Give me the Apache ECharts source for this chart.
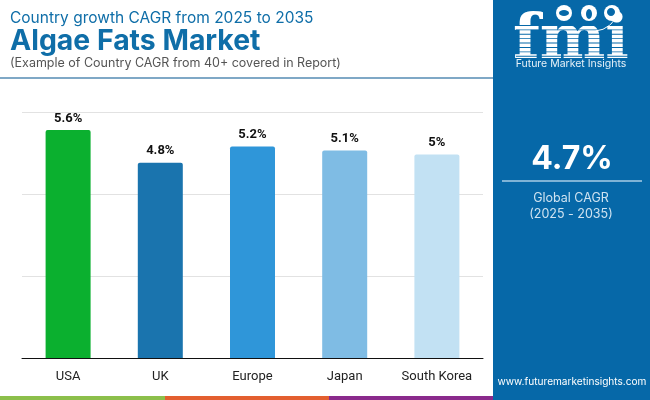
<!DOCTYPE html>
<html>
<head>
<meta charset="utf-8">
<style>
  html, body { margin: 0; padding: 0; background: #fff; }
  #chart { width: 650px; height: 400px; }
</style>
<script src="https://cdn.jsdelivr.net/npm/echarts@6/dist/echarts.min.js"></script>
</head>
<body>
<div id="chart"></div>
<script>
// chart data
const countries = ['USA', 'UK', 'Europe', 'Japan', 'South Korea'];
const cagrValues = [5.6, 4.8, 5.2, 5.1, 5];
const barColors = ['#0bb02f', '#1a74ae', '#2f96d9', '#7fbce4', '#c2e1f3'];

const panelBlue = '#0668a8';
const titleBlue = '#0f6ea8';

// thin stripes cut across the logo letters
const logoStripes = [];
for (let y = 25; y < 58; y += 4.4) {
    logoStripes.push({
        type: 'rect',
        shape: { x: 516, y: y, width: 112, height: 0.9 },
        style: { fill: panelBlue },
        z: 12
    });
}

// small globes on top of the logo
const logoGlobes = [[564, 13, 8], [589, 13, 8], [612, 13, 8]].map((g) => ({
    type: 'circle',
    shape: { cx: g[0], cy: g[1], r: g[2] },
    style: { fill: '#ffffff' },
    z: 13
}));
const logoLand = [[564, 13, 5, 3], [589, 14, 3, 5], [611, 12, 4, 4]].map((g) => ({
    type: 'ellipse',
    shape: { cx: g[0], cy: g[1], rx: g[2], ry: g[3] },
    style: { fill: panelBlue },
    z: 14
}));

var chartDom = document.getElementById('chart');
var myChart = echarts.init(chartDom);

var option = {
    animation: false,
    backgroundColor: '#ffffff',
    grid: { left: 22, right: 167, top: 112, bottom: 42 },
    xAxis: {
        type: 'category',
        data: countries,
        axisTick: { show: false },
        axisLine: { lineStyle: { color: '#111111', width: 1 } },
        axisLabel: {
            color: '#222222',
            fontFamily: 'Roboto',
            fontSize: 13,
            margin: 12
        }
    },
    yAxis: {
        type: 'value',
        min: 0,
        max: 6.045,
        interval: 2.015,
        axisLabel: { show: false },
        axisLine: { show: false },
        axisTick: { show: false },
        splitLine: { lineStyle: { color: '#e2e2e2', width: 1 } }
    },
    series: [
        {
            type: 'bar',
            barWidth: 45,
            data: cagrValues.map((v, i) => ({
                value: v,
                itemStyle: { color: barColors[i], borderRadius: [2, 2, 0, 0] }
            })),
            label: {
                show: true,
                position: 'top',
                distance: 5,
                color: '#111111',
                fontFamily: 'Roboto',
                fontWeight: 'bold',
                fontSize: 13,
                formatter: (p) => p.value + '%'
            }
        }
    ],
    graphic: [
        // header
        { type: 'text', left: 10, top: 10, z: 10, style: { text: 'Country growth CAGR from 2025 to 2035', fill: titleBlue, font: '15.5px Inter' } },
        { type: 'text', left: 10, top: 27, z: 10, style: { text: 'Algae Fats Market', fill: titleBlue, font: 'bold 28.4px Inter' } },
        { type: 'text', left: 10, top: 57, z: 10, style: { text: '(Example of Country CAGR from 40+ covered in Report)', fill: '#555555', font: '12.5px Inter' } },
        { type: 'rect', z: 10, shape: { x: 0, y: 77, width: 493, height: 2 }, style: { fill: '#7fa8c6' } },

        // right panel
        { type: 'rect', z: 10, shape: { x: 493, y: 0, width: 157, height: 400 }, style: { fill: panelBlue } },
        { type: 'text', z: 11, x: 571, y: 11, style: { text: 'fmi', fill: '#ffffff', font: 'bold 62px "DejaVu Serif"', align: 'center' } },
        ...logoStripes,
        // swoosh under the globes
        { type: 'arc', z: 13, shape: { cx: 594, cy: 7, r: 24, startAngle: 0.25, endAngle: 1.5 }, style: { stroke: '#ffffff', lineWidth: 1, fill: 'none' } },
        ...logoGlobes,
        ...logoLand,
        { type: 'text', z: 11, x: 571, y: 58, style: { text: 'Future Market Insights', fill: '#e6f1f8', font: '10.5px Inter', align: 'center' } },
        { type: 'text', z: 11, x: 572, y: 143, style: { text: '4.7%', fill: '#ffffff', font: 'bold 32px Inter', align: 'center' } },
        { type: 'rect', z: 11, shape: { x: 502, y: 180, width: 140, height: 2 }, style: { fill: '#7fb3d6' } },
        { type: 'text', z: 11, x: 571, y: 192, style: { text: 'Global CAGR', fill: '#cfe3f1', font: '12.5px Inter', align: 'center' } },
        { type: 'text', z: 11, x: 571, y: 208, style: { text: '(2025 - 2035)', fill: '#cfe3f1', font: '12.5px Inter', align: 'center' } },
        { type: 'text', z: 11, x: 572, y: 377, style: { text: 'www.futuremarketinsights.com', fill: '#ffffff', font: '10.1px Inter', align: 'center' } },

        // bottom colour strip
        { type: 'rect', z: 10, shape: { x: 0, y: 396, width: 165, height: 4 }, style: { fill: '#8cbf4b' } },
        { type: 'rect', z: 10, shape: { x: 165, y: 396, width: 164, height: 4 }, style: { fill: '#e35f2f' } },
        { type: 'rect', z: 10, shape: { x: 329, y: 396, width: 164, height: 4 }, style: { fill: '#8a2a8c' } }
    ]
};

option && myChart.setOption(option);
</script>
</body>
</html>
